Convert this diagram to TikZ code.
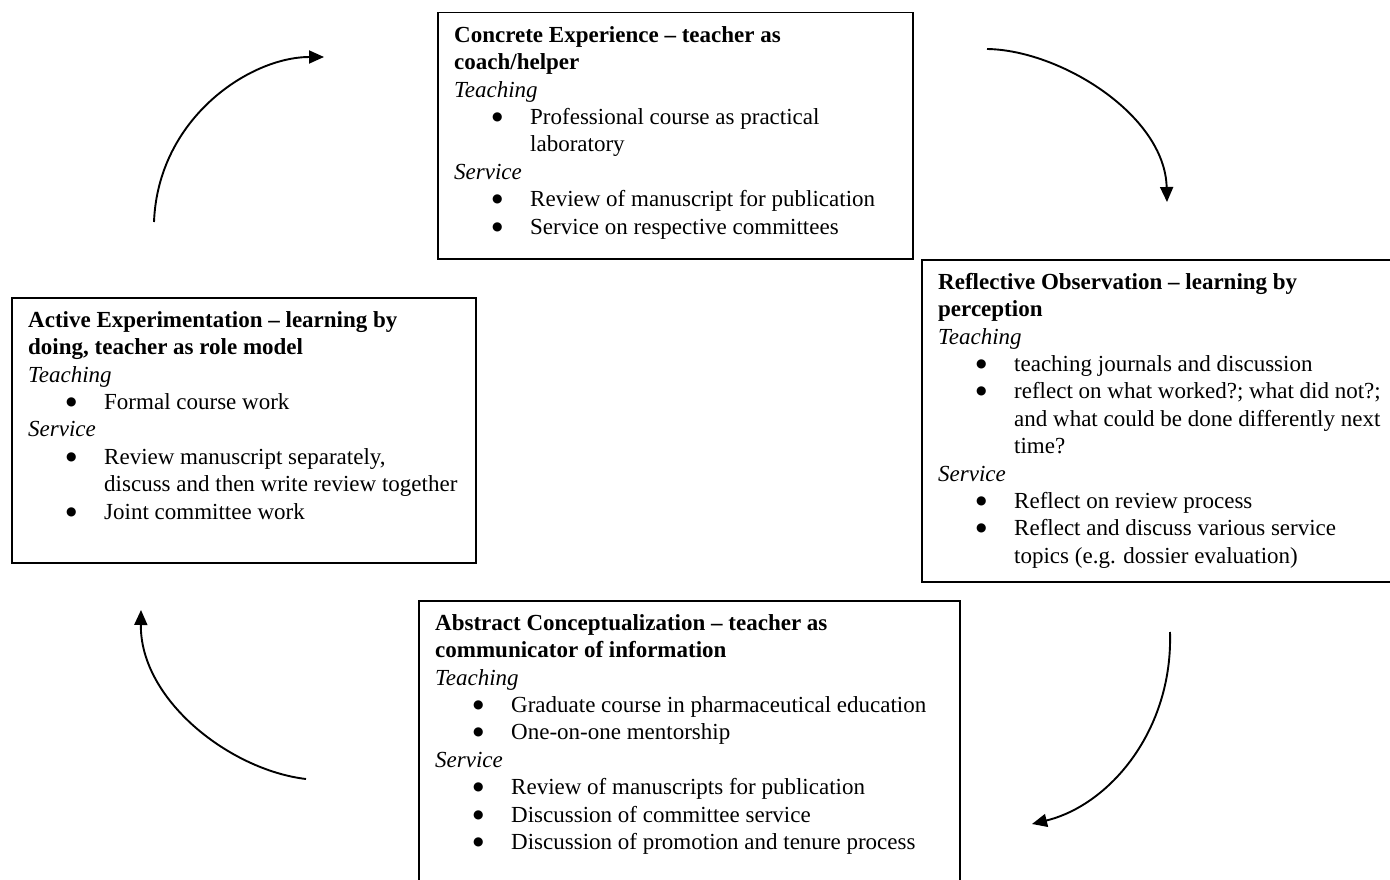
\documentclass[tikz,border=0pt]{standalone}
\usepackage{fontspec}
\setmainfont{Liberation Serif}
\newfontfamily\dvfont{DejaVu Sans}
\usetikzlibrary{arrows.meta}
\newcommand{\bu}{\makebox[76pt][l]{\hspace*{38pt}\raisebox{4pt}{\dvfont\fontsize{12}{12}\selectfont ●}}}
\newcommand{\ct}{\hspace*{76pt}}
\newcommand{\fl}{\rule{0pt}{20pt}}
\begin{document}
\begin{tikzpicture}[x=1pt,y=-1pt,
  box/.style={draw=black, line width=1.5pt, anchor=north west, inner sep=0pt},
  txt/.style={anchor=north west, inner sep=0pt, align=left, font=\fontsize{23}{27.4}\selectfont},
  cyc/.style={line width=1.9pt, -{Triangle[length=15pt,width=13pt]}}]
\useasboundingbox (0,0) rectangle (1390,880);
\clip (0,0) rectangle (1390,880);
\fill[white] (0,0) rectangle (1390,880);

% boxes
\node[box, minimum width=475pt, minimum height=246pt] (ce) at (437,12) {};
\node[box, minimum width=475pt, minimum height=322pt] (ro) at (921,259) {};
\node[box, minimum width=464pt, minimum height=265pt] (ae) at (11,297) {};
\node[box, minimum width=541pt, minimum height=320pt] (ac) at (418,600) {};

% texts
\node[txt] (cet) at ([xshift=17pt,yshift=-10pt]ce.north west) {\fl\textbf{Concrete Experience -- teacher as}\\
\textbf{coach/helper}\\
\textit{Teaching}\\
\bu Professional course as practical\\
\ct laboratory\\
\textit{Service}\\
\bu Review of manuscript for publication\\
\bu Service on respective committees};

\node[txt] (rot) at ([xshift=17pt,yshift=-10pt]ro.north west) {\fl\textbf{Reflective Observation -- learning by}\\
\textbf{perception}\\
\textit{Teaching}\\
\bu teaching journals and discussion\\
\bu reflect on what worked?; what did not?;\\
\ct and what could be done differently next\\
\ct time?\\
\textit{Service}\\
\bu Reflect on review process\\
\bu Reflect and discuss various service\\
\ct topics (e.g. dossier evaluation)};

\node[txt] (aet) at ([xshift=17pt,yshift=-10pt]ae.north west) {\fl\textbf{Active Experimentation -- learning by}\\
\textbf{doing, teacher as role model}\\
\textit{Teaching}\\
\bu Formal course work\\
\textit{Service}\\
\bu Review manuscript separately,\\
\ct discuss and then write review together\\
\bu Joint committee work};

\node[txt] (act) at ([xshift=17pt,yshift=-10pt]ac.north west) {\fl\textbf{Abstract Conceptualization -- teacher as}\\
\textbf{communicator of information}\\
\textit{Teaching}\\
\bu Graduate course in pharmaceutical education\\
\bu One-on-one mentorship\\
\textit{Service}\\
\bu Review of manuscripts for publication\\
\bu Discussion of committee service\\
\bu Discussion of promotion and tenure process};

% arrow endpoints
\coordinate (a1s) at (154,222); \coordinate (a1e) at (324,57);
\coordinate (a2s) at (987,49);  \coordinate (a2e) at (1167,202);
\coordinate (a3s) at (1170,632); \coordinate (a3e) at (1032,824);
\coordinate (a4s) at (306,779); \coordinate (a4e) at (141,610);

\draw[cyc] (a1s) .. controls (158,118) and (250,57) .. (a1e);
\draw[cyc] (a2s) .. controls (1060,50) and (1165,115) .. (a2e);
\draw[cyc] (a3s) .. controls (1173,730) and (1110,805) .. (a3e);
\draw[cyc] (a4s) .. controls (230,770) and (140,700) .. (a4e);
\end{tikzpicture}
\end{document}
